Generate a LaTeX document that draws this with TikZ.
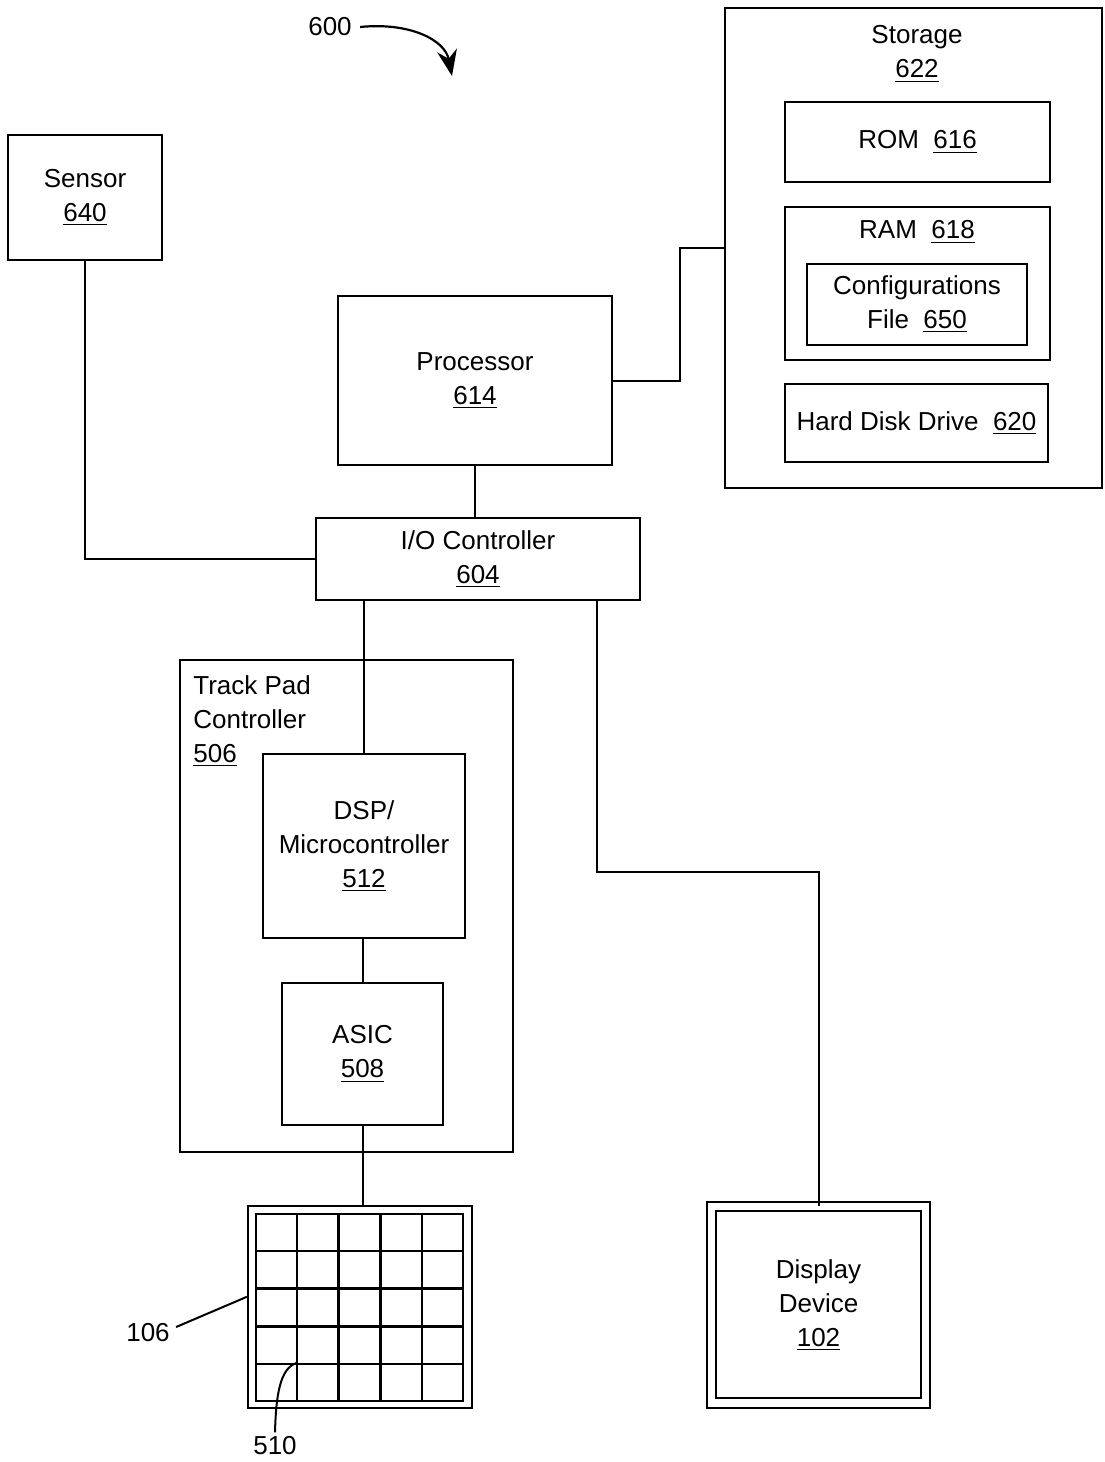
\documentclass[tikz,border=0pt]{standalone}
\usepackage{fontspec}
\setmainfont{Liberation Sans}
\usepackage{tikz}
\usetikzlibrary{
  arrows.meta,
  positioning,
  calc
}
\newcommand{\refnum}[1]{\underline{#1}}
\tikzset{
  box/.style={draw, line width=1.1pt, inner sep=0pt, align=center},
  dispbox/.style={box, double, double distance=3.6pt, line width=1pt},
  boxtext/.style={inner sep=0pt, align=center},
  wire/.style={line width=1pt},
  leader/.style={line width=1pt},
  figarrow/.style={line width=1.1pt, -{Stealth[length=13pt, width=10pt]}},
  gridline/.style={line width=1.1pt}
}

\begin{document}
\begin{tikzpicture}[x=0.5pt, y=-0.5pt, font=\fontsize{13}{17}\selectfont]
  \useasboundingbox (0,0) rectangle (1104,1462);
  % figure reference
  \node[boxtext] (fig) at (330,27) {600};
  \coordinate (figtip) at (452,76);
  \draw[figarrow] ([xshift=4pt]fig.east) .. controls (410,22) and (445,40) .. (figtip);

  % storage
  \node[box, minimum width=188.5pt, minimum height=240pt] (store) at (913.5,248) {};
  \node[boxtext] (storetxt) at (917,54) {Storage\\\refnum{622}};
  \node[box, minimum width=132.5pt, minimum height=40pt] (rom) at (917.5,142) {ROM\ \ \refnum{616}};
  \node[box, minimum width=132.5pt, minimum height=76.5pt] (ram) at (917.5,283.5) {};
  \node[boxtext] (ramtxt) at (917,232) {RAM\ \ \refnum{618}};
  \node[box, minimum width=110pt, minimum height=40.5pt] (cfg) at (917,304.5) {Configurations\\File\ \ \refnum{650}};
  \node[box, minimum width=131.5pt, minimum height=39pt] (hdd) at (916.5,423) {Hard Disk Drive\ \ \refnum{620}};

  % processor, sensor, i/o
  \node[box, minimum width=77pt, minimum height=62.5pt] (sensor) at (85,197.5) {Sensor\\\refnum{640}};
  \node[box, minimum width=137pt, minimum height=84.5pt] (proc) at (475,380.5) {Processor\\\refnum{614}};
  \node[box, minimum width=162pt, minimum height=41pt] (io) at (478,559) {I/O Controller\\\refnum{604}};

  % track pad controller
  \node[box, minimum width=166.5pt, minimum height=246pt] (tpc) at (346.5,906) {};
  \node[boxtext, anchor=north west, align=left] (tpctxt) at (193,675) {Track Pad\\Controller\\\refnum{506}};
  \node[box, minimum width=101pt, minimum height=92pt] (dsp) at (364,846) {DSP/\\Microcontroller\\\refnum{512}};
  \node[box, minimum width=80.5pt, minimum height=71pt] (asic) at (362.5,1054) {ASIC\\\refnum{508}};

  % track pad
  \node[box, minimum width=112pt, minimum height=101pt] (pad) at (360,1307) {};
  \node[box, minimum width=103.5pt, minimum height=93.5pt] (grid) at (359.5,1307.5) {};
  \foreach \i in {1,...,4} {
    \draw[gridline] ($(grid.north west)!\i/5!(grid.north east)$) -- ($(grid.south west)!\i/5!(grid.south east)$);
    \draw[gridline] ($(grid.north west)!\i/5!(grid.south west)$) -- ($(grid.north east)!\i/5!(grid.south east)$);
  }
  \coordinate (cell) at ($(grid.north west)!0.2!(grid.north east) + (0,150)$);

  % display
  \node[dispbox, minimum width=107pt, minimum height=98.25pt] (disp) at (818.5,1304.75) {Display\\Device\\\refnum{102}};

  % labels
  \node[boxtext] (padlbl) at (148,1333) {106};
  \node[boxtext] (celllbl) at (275,1446) {510};
  \draw[leader] ([xshift=3pt,yshift=3pt]padlbl.east) -- ($(pad.north west)!0.45!(pad.south west)$);
  \draw[leader] ([yshift=2pt]celllbl.north) .. controls (276,1395) and (280,1368) .. (cell);

  % connections
  \coordinate (membend) at (680,248);
  \coordinate (dispbend) at (597,872);
  \draw[wire] (proc.east) -| (membend) -- (membend -| store.west);
  \draw[wire] (proc.south) -- (proc.south |- io.north);
  \draw[wire] (sensor.south) |- (io.west);
  \draw[wire] (io.south -| dsp.north) -- (dsp.north);
  \draw[wire] (dispbend |- io.south) -- (dispbend) -| (disp.north);
  \draw[wire] (asic.north |- dsp.south) -- (asic.north);
  \draw[wire] (asic.south) -- (asic.south |- pad.north);
\end{tikzpicture}
\end{document}
